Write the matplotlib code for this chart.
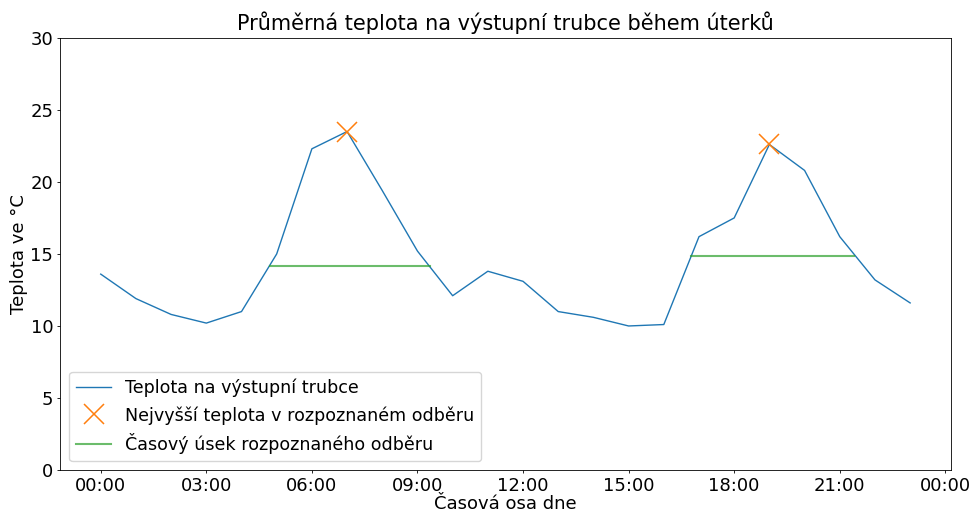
import datetime as dt
import matplotlib
matplotlib.use("Agg")
import matplotlib.pyplot as plt
import matplotlib.dates as mdates

# hodinové průměry teploty (°C)
hours = list(range(24))
temps = [13.6, 11.9, 10.8, 10.2, 11.0, 15.0, 22.3, 23.5, 19.4, 15.2, 12.1, 13.8,
         13.1, 11.0, 10.6, 10.0, 10.1, 16.2, 17.5, 22.6, 20.8, 16.2, 13.2, 11.6]

# vrcholy odběrů
peak_hours = [7, 19]
peak_temps = [23.5, 22.6]

# časové úseky odběrů (hodiny od, do, úroveň)
seg_start = [4.8, 16.77]
seg_end = [9.35, 21.4]
seg_level = [14.15, 14.85]

day = dt.datetime(2020, 1, 7)
def t(h):
    return day + dt.timedelta(hours=h)

x = [t(h) for h in hours]

fig, ax = plt.subplots(figsize=(9.72, 5.12), dpi=100)
fig.subplots_adjust(left=0.062, right=0.978, top=0.926, bottom=0.082)

ax.plot(x, temps, color='tab:blue', lw=1.0, label='Teplota na výstupní trubce')
ax.plot([t(h) for h in peak_hours], peak_temps, 'x', color='tab:orange',
        markersize=14, markeredgewidth=1.1,
        label='Nejvyšší teplota v rozpoznaném odběru')
for i, (a, b, lvl) in enumerate(zip(seg_start, seg_end, seg_level)):
    ax.plot([t(a), t(b)], [lvl, lvl], color='tab:green', alpha=0.7, lw=1.5,
            label='Časový úsek rozpoznaného odběru' if i == 0 else None)

ax.set_ylim(0, 30)
ax.xaxis.set_major_locator(mdates.HourLocator(byhour=range(0, 24, 3)))
ax.xaxis.set_major_formatter(mdates.DateFormatter('%H:%M'))
ax.tick_params(labelsize=13, length=2.5, width=0.6, pad=2.5)
for s in ax.spines.values():
    s.set_linewidth(0.6)

ax.set_title('Průměrná teplota na výstupní trubce během úterků', fontsize=15)
ax.set_xlabel('Časová osa dne', fontsize=13, labelpad=0)
ax.set_ylabel('Teplota ve °C', fontsize=13, labelpad=2)
ax.legend(loc='lower left', fontsize=12.6)

fig.savefig('out.png')
